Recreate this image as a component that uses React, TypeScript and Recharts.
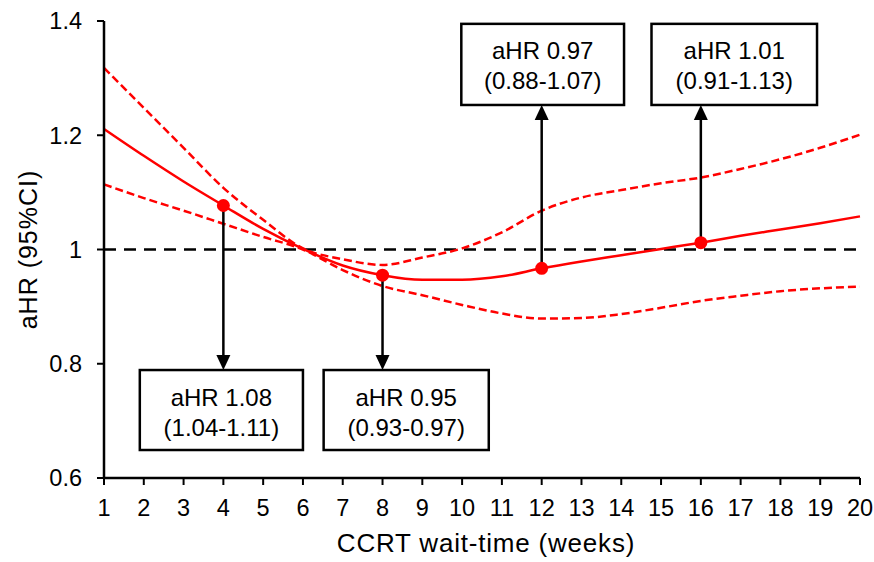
import React from 'react';
import { ComposedChart, Line, XAxis, YAxis, ReferenceLine, ReferenceArea } from 'recharts';

// weeks of CCRT wait-time
const weeks = [1, 2, 3, 4, 5, 6, 7, 8, 9, 10, 11, 12, 13, 14, 15, 16, 17, 18, 19, 20];
// adjusted hazard ratio and 95% CI bounds
const hrValues = [1.211, 1.164, 1.119, 1.077, 1.036, 1.001, 0.972, 0.955, 0.947, 0.947, 0.953, 0.967, 0.979, 0.99, 1.001, 1.012, 1.024, 1.035, 1.046, 1.058];
const hiValues = [1.318, 1.248, 1.178, 1.108, 1.052, 1.002, 0.983, 0.973, 0.986, 1.002, 1.03, 1.068, 1.091, 1.104, 1.116, 1.126, 1.141, 1.158, 1.178, 1.201];
const loValues = [1.114, 1.09, 1.068, 1.045, 1.022, 1.0, 0.964, 0.936, 0.92, 0.903, 0.888, 0.879, 0.88, 0.887, 0.898, 0.91, 0.919, 0.927, 0.932, 0.935];

const yTicks = [0.6, 0.8, 1, 1.2, 1.4];

// highlighted weeks and their labels
const annWeeks = [4, 8, 12, 16];
const annHr = ['aHR 1.08', 'aHR 0.95', 'aHR 0.97', 'aHR 1.01'];
const annCi = ['(1.04-1.11)', '(0.93-0.97)', '(0.88-1.07)', '(0.91-1.13)'];

// where each label box sits (in axis units)
const boxLayout = [
  { x1: 1.9, x2: 6.0, y1: 0.649, y2: 0.789, below: true },
  { x1: 6.52, x2: 10.67, y1: 0.649, y2: 0.789, below: true },
  { x1: 9.98, x2: 14.07, y1: 1.253, y2: 1.395, below: false },
  { x1: 14.76, x2: 18.92, y1: 1.253, y2: 1.395, below: false },
];

const chartData = weeks.map((w, i) => ({ week: w, hr: hrValues[i], hi: hiValues[i], lo: loValues[i] }));

const FONT = "'Liberation Sans', Arial, sans-serif";
const RED = '#ff0000';

function Arrow(props: any) {
  const { x1, y1, x2, y2 } = props;
  const dir = y2 > y1 ? 1 : -1;
  const head = 15;
  const hw = 7;
  return (
    <g>
      <line x1={x1} y1={y1} x2={x2} y2={y2 - dir * head} stroke="#000" strokeWidth={2.5} />
      <polygon points={`${x2},${y2} ${x2 - hw},${y2 - dir * head} ${x2 + hw},${y2 - dir * head}`} fill="#000" />
    </g>
  );
}

function makeBox(line1: string, line2: string) {
  return (props: any) => {
    const { x, y, width, height } = props;
    const cx = x + width / 2;
    return (
      <g>
        <rect x={x} y={y} width={width} height={height} fill="#fff" stroke="#000" strokeWidth={2.5} />
        <text x={cx} y={y + 27} textAnchor="middle" dominantBaseline="central" fontSize={24} fontFamily={FONT} fill="#000">
          {line1}
        </text>
        <text x={cx} y={y + 57} textAnchor="middle" dominantBaseline="central" fontSize={24} fontFamily={FONT} fill="#000">
          {line2}
        </text>
      </g>
    );
  };
}

function HrDot(props: any) {
  const { cx, cy, payload, index } = props;
  if (!annWeeks.includes(payload.week)) return <g key={`d${index}`} />;
  return <circle key={`d${index}`} cx={cx} cy={cy} r={6.5} fill={RED} />;
}

export default function App() {
  return (
    <div style={{ position: 'absolute', left: 0, top: 0, background: '#fff' }}>
      <ComposedChart width={874} height={562} data={chartData} margin={{ top: 21, right: 14, left: 0, bottom: 0 }}>
        <XAxis
          dataKey="week"
          type="number"
          domain={[1, 20]}
          ticks={weeks}
          interval={0}
          height={84}
          tickSize={7}
          tickMargin={14}
          axisLine={{ stroke: '#000', strokeWidth: 2.5 }}
          tickLine={{ stroke: '#000', strokeWidth: 2 }}
          tick={{ fill: '#000', fontSize: 23.5, fontFamily: FONT }}
          label={{
            content: (p: any) => {
              const vb = p.viewBox || { x: 104, width: 756 };
              return (
                <text x={vb.x + vb.width / 2 + 4} y={552} textAnchor="middle" fontSize={26} letterSpacing={0.8} fontFamily={FONT} fill="#000">
                  CCRT wait-time (weeks)
                </text>
              );
            },
          }}
        />
        <YAxis
          type="number"
          domain={[0.6, 1.4]}
          ticks={yTicks}
          width={104}
          tickSize={7}
          tickMargin={15}
          axisLine={{ stroke: '#000', strokeWidth: 2.5 }}
          tickLine={{ stroke: '#000', strokeWidth: 2 }}
          tick={{ fill: '#000', fontSize: 23.5, fontFamily: FONT }}
          label={{
            content: (p: any) => {
              const vb = p.viewBox || { y: 21, height: 457 };
              const cy = vb.y + vb.height / 2;
              return (
                <text x={28} y={cy} transform={`rotate(-90, 28, ${cy})`} textAnchor="middle" dominantBaseline="central" fontSize={25} letterSpacing={1} fontFamily={FONT} fill="#000">
                  aHR (95%CI)
                </text>
              );
            },
          }}
        />
        <ReferenceLine y={1} stroke="#000" strokeWidth={2.5} strokeDasharray="12 8" />
        <Line dataKey="hi" type="monotone" stroke={RED} strokeWidth={2.5} strokeDasharray="8 4" dot={false} activeDot={false} isAnimationActive={false} />
        <Line dataKey="lo" type="monotone" stroke={RED} strokeWidth={2.5} strokeDasharray="8 4" dot={false} activeDot={false} isAnimationActive={false} />
        {annWeeks.map((w, i) => {
          const b = boxLayout[i];
          return (
            <ReferenceLine
              key={`arrow${w}`}
              segment={[
                { x: w, y: hrValues[weeks.indexOf(w)] },
                { x: w, y: b.below ? b.y2 : b.y1 },
              ]}
              stroke="#000"
              shape={Arrow}
            />
          );
        })}
        {annWeeks.map((w, i) => {
          const b = boxLayout[i];
          return (
            <ReferenceArea
              key={`box${w}`}
              x1={b.x1}
              x2={b.x2}
              y1={b.y1}
              y2={b.y2}
              shape={makeBox(annHr[i], annCi[i])}
            />
          );
        })}
        <Line dataKey="hr" type="monotone" stroke={RED} strokeWidth={2.5} dot={HrDot} activeDot={false} isAnimationActive={false} />
      </ComposedChart>
    </div>
  );
}
